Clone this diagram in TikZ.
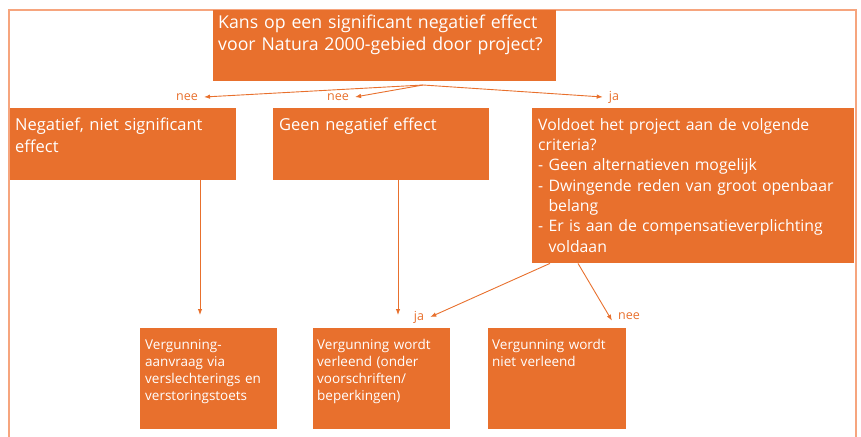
\documentclass[tikz,border=0pt]{standalone}
\usepackage{fontspec}
\setmainfont{Open Sans}
\usetikzlibrary{arrows.meta}
\definecolor{boxorange}{HTML}{E8702D}
\definecolor{frameorange}{HTML}{F6A57E}
\hyphenpenalty=10000
\tikzset{
  box/.style={fill=boxorange, text=white, anchor=north west, align=left,
    inner xsep=5pt, inner ysep=0pt},
  lbl/.style={text=boxorange, inner xsep=6pt, inner ysep=1pt,
    font=\fontsize{12.5}{14}\selectfont},
  arr/.style={draw=boxorange, line width=0.9pt, -{Latex[length=6pt,width=4.5pt]}}
}
\begin{document}
\begin{tikzpicture}[x=1pt, y=-1pt]
  \useasboundingbox (0,0) rectangle (861,436);
  \draw[frameorange, line width=2pt] (9,437) -- (9,10) -- (856,10) -- (856,437);

  % vraag bovenaan
  \node[box, text width=333pt, text height=18pt, text depth=53pt,
    font=\fontsize{17.7}{22}\selectfont] (vraag) at (213,10)
    {Kans op een significant negatief effect\\voor Natura 2000-gebied door project?};

  % tweede rij
  \node[box, text width=216pt, text height=22pt, text depth=50pt,
    font=\fontsize{16.5}{22.5}\selectfont] (nietsig) at (10,108)
    {Negatief, niet significant\\effect};
  \node[box, inner xsep=6pt, text width=204pt, text height=22pt, text depth=50pt,
    font=\fontsize{16.5}{22}\selectfont] (geen) at (273,108)
    {Geen negatief effect};
  \node[box, inner xsep=6pt, text width=310pt, text height=22pt, text depth=133pt,
    font=\fontsize{15.8}{20.3}\selectfont] (criteria) at (532,108)
    {Voldoet het project aan de volgende\\criteria?\\
     - Geen alternatieven mogelijk\\
     - Dwingende reden van groot openbaar\\\phantom{- }belang\\
     - Er is aan de compensatieverplichting\\\phantom{- }voldaan};

  % onderste rij
  \node[box, text width=127pt, text height=21pt, text depth=80pt,
    font=\fontsize{13.5}{17}\selectfont] (toets) at (140,328)
    {Vergunning-\\aanvraag via\\verslechterings en\\verstoringstoets};
  \node[box, inner xsep=4pt, text width=129pt, text height=21pt, text depth=80pt,
    font=\fontsize{13.5}{17}\selectfont] (verleend) at (313,328)
    {Vergunning wordt\\verleend (onder\\voorschriften/\\beperkingen)};
  \node[box, inner xsep=4pt, text width=130pt, text height=21pt, text depth=80pt,
    font=\fontsize{13.5}{17}\selectfont] (nietverleend) at (488,328)
    {Vergunning wordt\\niet verleend};

  % labels
  \node[lbl] (nee1) at (187,97) {nee};
  \node[lbl] (nee2) at (338,97) {nee};
  \node[lbl] (ja1) at (614,97) {ja};
  \node[lbl] (ja2) at (419,317) {ja};
  \node[lbl] (nee3) at (629,316) {nee};

  % pijlen
  \coordinate (splits) at (423,85);
  \draw[arr] (splits) -- (nee1.east);
  \draw[arr] (splits) -- (nee2.east);
  \draw[arr] (splits) -- (ja1.west);
  \draw[arr] ([xshift=190pt]nietsig.south west) -- ([xshift=60pt,yshift=13pt]toets.north west);
  \draw[arr] ([xshift=125pt]geen.south west) -- ([xshift=85pt,yshift=13pt]verleend.north west);
  \draw[arr] ([xshift=18pt]criteria.south west) -- (ja2.east);
  \draw[arr] ([xshift=46pt]criteria.south west) -- (nee3.south west);
\end{tikzpicture}
\end{document}
